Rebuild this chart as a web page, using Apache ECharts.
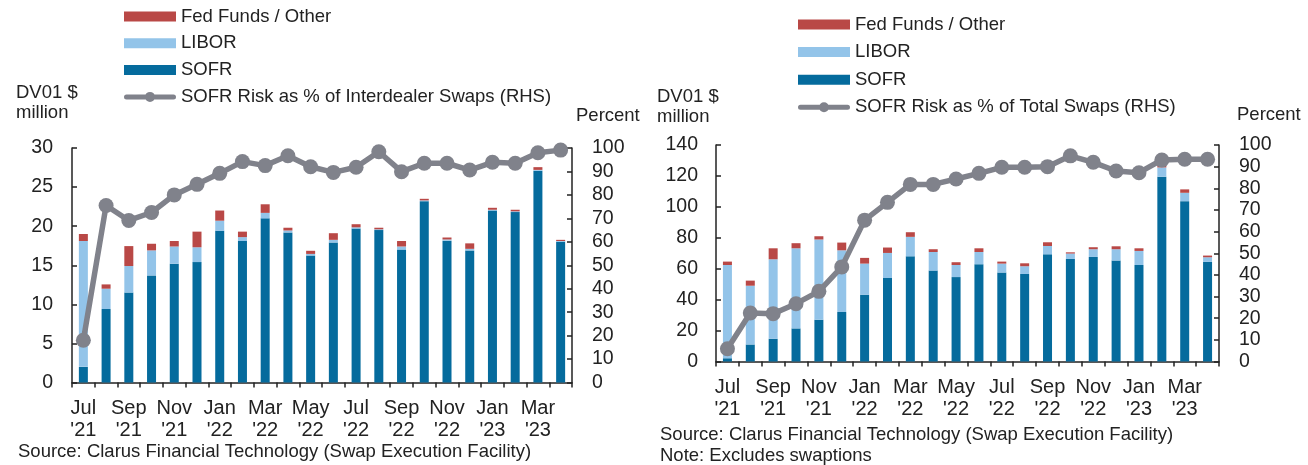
<!DOCTYPE html>
<html>
<head>
<meta charset="utf-8">
<script src="https://cdn.jsdelivr.net/npm/echarts@6/dist/echarts.min.js"></script>
<style>
  html, body { margin: 0; padding: 0; background: #fff; }
  #chart { width: 1308px; height: 465px; }
</style>
</head>
<body>
<div id="chart"></div>
<script>
// months Jul '21 .. Apr '23
const months = ["Jul\n'21", "Aug\n'21", "Sep\n'21", "Oct\n'21", "Nov\n'21", "Dec\n'21",
  "Jan\n'22", "Feb\n'22", "Mar\n'22", "Apr\n'22", "May\n'22", "Jun\n'22",
  "Jul\n'22", "Aug\n'22", "Sep\n'22", "Oct\n'22", "Nov\n'22", "Dec\n'22",
  "Jan\n'23", "Feb\n'23", "Mar\n'23", "Apr\n'23"];

// left panel: interdealer swaps, DV01 $ million
const idSofr  = [2.0, 9.4, 11.5, 13.7, 15.2, 15.4, 19.4, 18.1, 21.0, 19.2, 16.25, 17.9, 19.7, 19.5, 17.0, 23.2, 18.15, 16.9, 22.0, 21.8, 27.1, 18.0];
const idLibor = [16.1, 2.6, 3.4, 3.2, 2.2, 1.9, 1.3, 0.5, 0.7, 0.25, 0.2, 0.35, 0.15, 0.1, 0.4, 0.1, 0.15, 0.2, 0.1, 0.1, 0.1, 0.1];
const idFed   = [0.9, 0.55, 2.55, 0.85, 0.7, 2.0, 1.3, 0.7, 1.1, 0.35, 0.4, 0.85, 0.4, 0.2, 0.7, 0.2, 0.25, 0.7, 0.25, 0.2, 0.35, 0.15];
const idPct   = [18.0, 75.5, 69.1, 72.5, 80.0, 84.5, 89.2, 94.2, 92.5, 96.7, 92.0, 89.6, 91.8, 98.4, 89.9, 93.5, 93.5, 90.6, 93.9, 93.5, 98.0, 99.1];

// right panel: total swaps, DV01 $ million
const totSofr  = [2.1, 11.0, 14.7, 21.4, 27.0, 32.0, 43.2, 54.0, 68.0, 58.8, 54.6, 62.9, 57.5, 56.6, 69.3, 66.3, 67.6, 65.3, 62.4, 119.5, 103.7, 64.4];
const totLibor = [60.3, 38.0, 51.4, 51.8, 51.9, 39.9, 20.1, 16.2, 12.6, 12.0, 7.8, 7.9, 5.8, 5.0, 5.4, 3.5, 5.0, 7.3, 9.1, 6.0, 5.4, 3.0];
const totFed   = [2.2, 3.3, 7.1, 3.3, 2.1, 5.0, 3.7, 3.5, 3.0, 1.8, 1.8, 2.4, 1.3, 1.9, 2.4, 0.8, 1.3, 1.9, 1.7, 1.0, 2.2, 1.1];
const totPct   = [5.9, 22.4, 22.1, 26.7, 32.4, 43.7, 65.3, 73.5, 81.8, 81.8, 84.3, 86.9, 89.7, 89.7, 90.0, 95.0, 92.0, 88.0, 87.2, 93.1, 93.4, 93.4];

const FONT = 'Liberation Sans, Arial, sans-serif';
const INK = '#222';
const C_SOFR = '#056b9d', C_LIBOR = '#93c4e9', C_FED = '#b94846', C_LINE = '#80828b';

const NAME_FED = 'Fed Funds / Other', NAME_LIBOR = 'LIBOR', NAME_SOFR = 'SOFR';
const NAME_ID = 'SOFR Risk as % of Interdealer Swaps (RHS)';
const NAME_TOT = 'SOFR Risk as % of Total Swaps (RHS)';

// legend icon for the line: thick rounded bar with a dot in the middle (52 x 10 box)
const LINE_ICON = 'path://M2.5,2.5 L49.5,2.5 A2.5,2.5 0 0 1 49.5,7.5 L2.5,7.5 A2.5,2.5 0 0 1 2.5,2.5 Z ' +
  'M21,5 A5,5 0 1 1 31,5 A5,5 0 1 1 21,5 Z';

function xAxisFor(gridIndex) {
  return {
    type: 'category', gridIndex, data: months,
    axisLine: { lineStyle: { color: INK, width: 1.5 } },
    axisTick: { show: true, interval: 0, length: 5, lineStyle: { color: INK, width: 1.5 } },
    axisLabel: { interval: 1, color: INK, fontSize: 20, lineHeight: 22, margin: 15, fontFamily: FONT }
  };
}

function yAxisFor(gridIndex, max, interval, pos, margin) {
  return {
    type: 'value', gridIndex, min: 0, max, interval, position: pos,
    axisLine: { show: true, lineStyle: { color: INK, width: 1.5 } },
    axisTick: { show: true, inside: true, length: 5, lineStyle: { color: INK, width: 1.5 } },
    axisLabel: { color: INK, fontSize: 19.5, margin, fontFamily: FONT },
    splitLine: { show: false }
  };
}

function barSeries(name, data, color, xi, yi) {
  return {
    name, type: 'bar', stack: 'g' + xi, xAxisIndex: xi, yAxisIndex: yi, data,
    barWidth: 9, itemStyle: { color }, emphasis: { disabled: true }
  };
}

function lineSeries(name, data, xi, yi) {
  return {
    name, type: 'line', xAxisIndex: xi, yAxisIndex: yi, data, z: 5,
    symbol: 'circle', symbolSize: 15,
    lineStyle: { color: C_LINE, width: 5.5 }, itemStyle: { color: C_LINE },
    emphasis: { disabled: true }
  };
}

const legendBase = {
  orient: 'vertical', itemWidth: 52, itemHeight: 10, padding: 0,
  selectedMode: false,
  textStyle: { color: INK, fontSize: 18.5, fontFamily: FONT, lineHeight: 18 }
};

function legendItems(lineName) {
  return [
    { name: NAME_FED, icon: 'rect' },
    { name: NAME_LIBOR, icon: 'rect' },
    { name: NAME_SOFR, icon: 'rect' },
    { name: lineName, icon: LINE_ICON, itemStyle: { color: C_LINE } }
  ];
}

const chart = echarts.init(document.getElementById('chart'));
chart.setOption({
  animation: false,
  backgroundColor: '#fff',
  grid: [
    { left: 72, top: 148, width: 500, height: 234.5 },
    { left: 716, top: 145, width: 503, height: 216.5 }
  ],
  xAxis: [xAxisFor(0), xAxisFor(1)],
  yAxis: [
    yAxisFor(0, 30, 5, 'left', 19),
    yAxisFor(0, 100, 10, 'right', 20),
    yAxisFor(1, 140, 20, 'left', 18),
    yAxisFor(1, 100, 10, 'right', 20)
  ],
  legend: [
    Object.assign({}, legendBase, { left: 124, top: 7, itemGap: 7.8, data: legendItems(NAME_ID) }),
    Object.assign({}, legendBase, { left: 798, top: 15, itemGap: 8.6, data: legendItems(NAME_TOT) })
  ],
  series: [
    barSeries(NAME_SOFR, idSofr, C_SOFR, 0, 0),
    barSeries(NAME_LIBOR, idLibor, C_LIBOR, 0, 0),
    barSeries(NAME_FED, idFed, C_FED, 0, 0),
    lineSeries(NAME_ID, idPct, 0, 1),
    barSeries(NAME_SOFR, totSofr, C_SOFR, 1, 2),
    barSeries(NAME_LIBOR, totLibor, C_LIBOR, 1, 2),
    barSeries(NAME_FED, totFed, C_FED, 1, 2),
    lineSeries(NAME_TOT, totPct, 1, 3)
  ],
  graphic: [
    { type: 'text', left: 16, top: 83, style: { text: 'DV01 $\nmillion', font: '18.5px ' + FONT, lineHeight: 20, fill: INK } },
    { type: 'text', left: 576, top: 106, style: { text: 'Percent', font: '18.5px ' + FONT, fill: INK } },
    { type: 'text', left: 18, top: 442, style: { text: 'Source: Clarus Financial Technology (Swap Execution Facility)', font: '18.5px ' + FONT, fill: INK } },
    { type: 'text', left: 657, top: 87, style: { text: 'DV01 $\nmillion', font: '18.5px ' + FONT, lineHeight: 20, fill: INK } },
    { type: 'text', left: 1237, top: 105, style: { text: 'Percent', font: '18.5px ' + FONT, fill: INK } },
    { type: 'text', left: 660, top: 425, style: { text: 'Source: Clarus Financial Technology (Swap Execution Facility)', font: '18.5px ' + FONT, fill: INK } },
    { type: 'text', left: 660, top: 446, style: { text: 'Note: Excludes swaptions', font: '18.5px ' + FONT, fill: INK } }
  ]
});
</script>
</body>
</html>
